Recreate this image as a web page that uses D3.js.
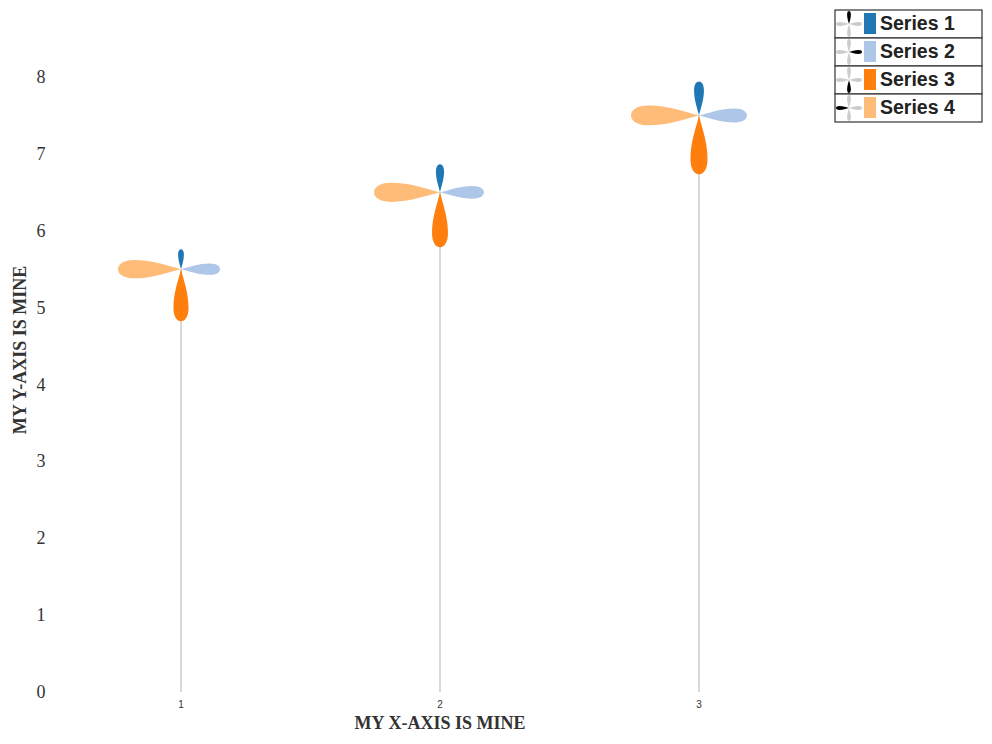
<!DOCTYPE html>
<html>
<head>
<meta charset="utf-8">
<script src="https://cdn.jsdelivr.net/npm/d3@7"></script>
<style>
  html, body { margin: 0; padding: 0; background: #fff; }
  svg { display: block; }
</style>
</head>
<body>
<svg id="chart" width="992" height="744"></svg>
<script>
// ---- data ----
const xValues = [1, 2, 3];
const yValues = [5.5, 6.5, 7.5];
const seriesNames = ["Series 1", "Series 2", "Series 3", "Series 4"];
const series1 = [2.0, 2.8, 3.4];
const series2 = [3.9, 4.4, 4.8];
const series3 = [5.2, 5.5, 5.9];
const series4 = [6.3, 6.6, 6.8];
const seriesColors = ["#1f77b4", "#aec7e8", "#ff7f0e", "#ffbb78"];
const yTicks = [0, 1, 2, 3, 4, 5, 6, 7, 8];
const xTicks = [1, 2, 3];
const xTitle = "MY X-AXIS IS MINE";
const yTitle = "MY Y-AXIS IS MINE";

const allSeries = [series1, series2, series3, series4];
const angles = [0, 90, 180, 270];

const svg = d3.select("#chart");
const x = d3.scaleLinear().domain([1, 3]).range([181, 699]);
const y = d3.scaleLinear().domain([0, 8]).range([692, 77]);
const r = d3.scaleLinear().domain([0, 1]).range([0, 10]);

function petalPath(L, W) {
  const h = W / 2;
  return `M0,0 C${0.18*W},${-0.22*L} ${h},${-0.45*L} ${h},${-0.74*L}` +
         ` C${h},${-0.92*L} ${0.25*W},${-L} 0,${-L}` +
         ` C${-0.25*W},${-L} ${-h},${-0.92*L} ${-h},${-0.74*L}` +
         ` C${-h},${-0.45*L} ${-0.18*W},${-0.22*L} 0,0 Z`;
}

// y axis labels
svg.append("g").selectAll("text").data(yTicks).join("text")
  .attr("x", 41).attr("y", d => y(d))
  .attr("text-anchor", "middle").attr("dominant-baseline", "central")
  .attr("font-family", "Liberation Serif, serif").attr("font-size", 18)
  .attr("fill", "#333").text(d => d);

// x axis labels
svg.append("g").selectAll("text").data(xTicks).join("text")
  .attr("x", d => x(d)).attr("y", 708)
  .attr("text-anchor", "middle")
  .attr("font-family", "Liberation Sans, Arial, sans-serif").attr("font-size", 10)
  .attr("fill", "#333").text(d => d);

// titles
svg.append("text").attr("x", 440).attr("y", 729)
  .attr("text-anchor", "middle")
  .attr("font-family", "Liberation Serif, serif").attr("font-weight", "bold")
  .attr("font-size", 18).attr("fill", "#333").text(xTitle);
svg.append("text").attr("transform", "translate(26,350) rotate(-90)")
  .attr("text-anchor", "middle")
  .attr("font-family", "Liberation Serif, serif").attr("font-weight", "bold")
  .attr("font-size", 18).attr("fill", "#333").text(yTitle);

// flowers
const flowers = svg.append("g").selectAll("g").data(xValues).join("g");
flowers.append("line")
  .attr("x1", d => x(d)).attr("x2", d => x(d))
  .attr("y1", y(0)).attr("y2", (d, i) => y(yValues[i]))
  .attr("stroke", "#ccc").attr("stroke-width", 1.5);
flowers.each(function(d, i) {
  const g = d3.select(this).append("g")
    .attr("transform", `translate(${x(d)},${y(yValues[i])})`);
  allSeries.forEach((s, k) => {
    const L = r(s[i]);
    g.append("path")
      .attr("d", petalPath(L, 0.29 * L))
      .attr("transform", `rotate(${angles[k]})`)
      .attr("fill", seriesColors[k]);
  });
});

// legend
const lg = svg.append("g").attr("transform", "translate(835,10)");
const rowH = 28;
seriesNames.forEach((name, k) => {
  const row = lg.append("g").attr("transform", `translate(0,${k * rowH})`);
  row.append("rect").attr("width", 147).attr("height", rowH)
    .attr("fill", "#fff").attr("stroke", "#333").attr("stroke-width", 1.2);
  const icon = row.append("g").attr("transform", "translate(14,14)");
  angles.forEach((a, j) => {
    icon.append("path")
      .attr("d", petalPath(13, 3.8))
      .attr("transform", `rotate(${a})`)
      .attr("fill", j === k ? "#000" : "#ccc");
  });
  row.append("rect").attr("x", 29).attr("y", 3).attr("width", 12).attr("height", 21)
    .attr("fill", seriesColors[k]);
  row.append("text").attr("x", 45).attr("y", 20)
    .attr("font-family", "Liberation Sans, Arial, sans-serif").attr("font-weight", "bold")
    .attr("font-size", 19.5).attr("fill", "#222").text(name);
});
</script>
</body>
</html>
